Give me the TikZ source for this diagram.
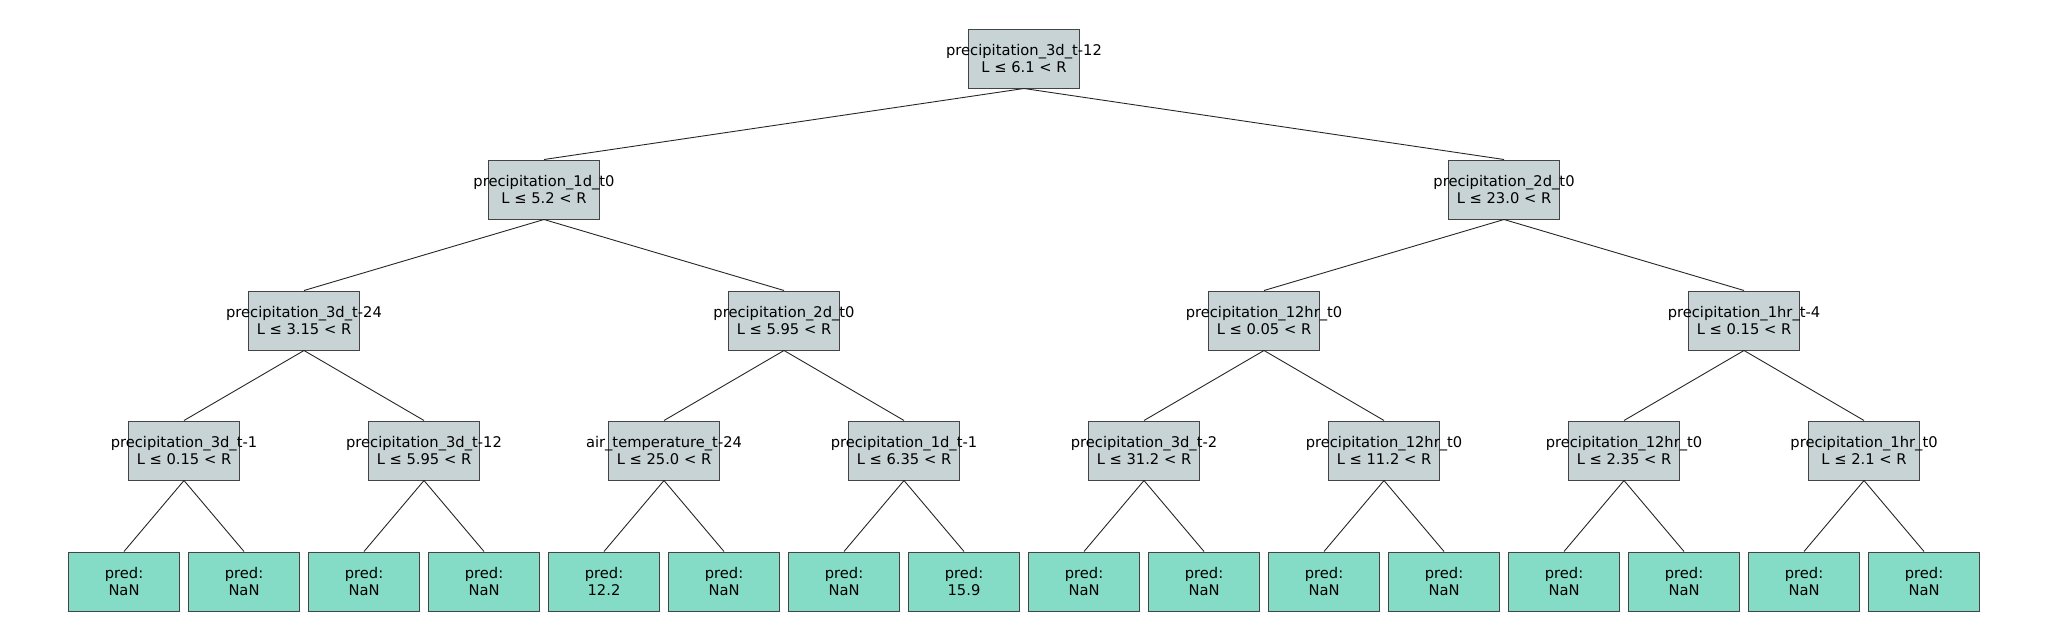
\documentclass[tikz,border=0pt]{standalone}
\usepackage{fontspec}
\setmainfont{DejaVu Sans}
\definecolor{splitfill}{HTML}{C7D3D4}
\definecolor{leaffill}{HTML}{85DCC6}
\definecolor{boxline}{HTML}{444444}
\begin{document}
\begin{tikzpicture}[x=1pt,y=-1pt,
  tbox/.style={draw=boxline,line width=1pt,minimum width=111pt,minimum height=59pt,inner sep=0pt},
  lab/.style={align=center,inner sep=0pt,font=\fontsize{14.7}{17}\selectfont},
  split/.style={tbox,fill=splitfill,label={[lab]center:#1}},
  leaf/.style={tbox,fill=leaffill,label={[lab]center:#1}},
  edge/.style={draw=black!85,line width=0.9pt}]
\useasboundingbox (0,0) rectangle (2048,640);
% root
\node[split={precipitation\_3d\_t-12\\L ≤ 6.1 < R}] (r) at (1024,58.5) {};
% level 1
\node[split={precipitation\_1d\_t0\\L ≤ 5.2 < R}] (a) at (544,189.5) {};
\node[split={precipitation\_2d\_t0\\L ≤ 23.0 < R}] (b) at (1504,189.5) {};
% level 2
\node[split={precipitation\_3d\_t-24\\L ≤ 3.15 < R}] (aa) at (304,320.5) {};
\node[split={precipitation\_2d\_t0\\L ≤ 5.95 < R}] (ab) at (784,320.5) {};
\node[split={precipitation\_12hr\_t0\\L ≤ 0.05 < R}] (ba) at (1264,320.5) {};
\node[split={precipitation\_1hr\_t-4\\L ≤ 0.15 < R}] (bb) at (1744,320.5) {};
% level 3
\node[split={precipitation\_3d\_t-1\\L ≤ 0.15 < R}] (c1) at (184,450.5) {};
\node[split={precipitation\_3d\_t-12\\L ≤ 5.95 < R}] (c2) at (424,450.5) {};
\node[split={air\_temperature\_t-24\\L ≤ 25.0 < R}] (c3) at (664,450.5) {};
\node[split={precipitation\_1d\_t-1\\L ≤ 6.35 < R}] (c4) at (904,450.5) {};
\node[split={precipitation\_3d\_t-2\\L ≤ 31.2 < R}] (c5) at (1144,450.5) {};
\node[split={precipitation\_12hr\_t0\\L ≤ 11.2 < R}] (c6) at (1384,450.5) {};
\node[split={precipitation\_12hr\_t0\\L ≤ 2.35 < R}] (c7) at (1624,450.5) {};
\node[split={precipitation\_1hr\_t0\\L ≤ 2.1 < R}] (c8) at (1864,450.5) {};
% leaves
\foreach \v [count=\i from 1] in {NaN,NaN,NaN,NaN,12.2,NaN,NaN,15.9,NaN,NaN,NaN,NaN,NaN,NaN,NaN,NaN}{
  \node[leaf={pred:\\\v}] (f\i) at ({124+120*(\i-1)},581.5) {};
}
% edges
\draw[edge] (r.south) -- (a.north);
\draw[edge] (r.south) -- (b.north);
\draw[edge] (a.south) -- (aa.north);
\draw[edge] (a.south) -- (ab.north);
\draw[edge] (b.south) -- (ba.north);
\draw[edge] (b.south) -- (bb.north);
\draw[edge] (aa.south) -- (c1.north);
\draw[edge] (aa.south) -- (c2.north);
\draw[edge] (ab.south) -- (c3.north);
\draw[edge] (ab.south) -- (c4.north);
\draw[edge] (ba.south) -- (c5.north);
\draw[edge] (ba.south) -- (c6.north);
\draw[edge] (bb.south) -- (c7.north);
\draw[edge] (bb.south) -- (c8.north);
\foreach \p [count=\k from 1] in {c1,c2,c3,c4,c5,c6,c7,c8}{
  \pgfmathtruncatemacro{\la}{2*\k-1}
  \pgfmathtruncatemacro{\lb}{2*\k}
  \draw[edge] (\p.south) -- (f\la.north);
  \draw[edge] (\p.south) -- (f\lb.north);
}
\end{tikzpicture}
\end{document}
